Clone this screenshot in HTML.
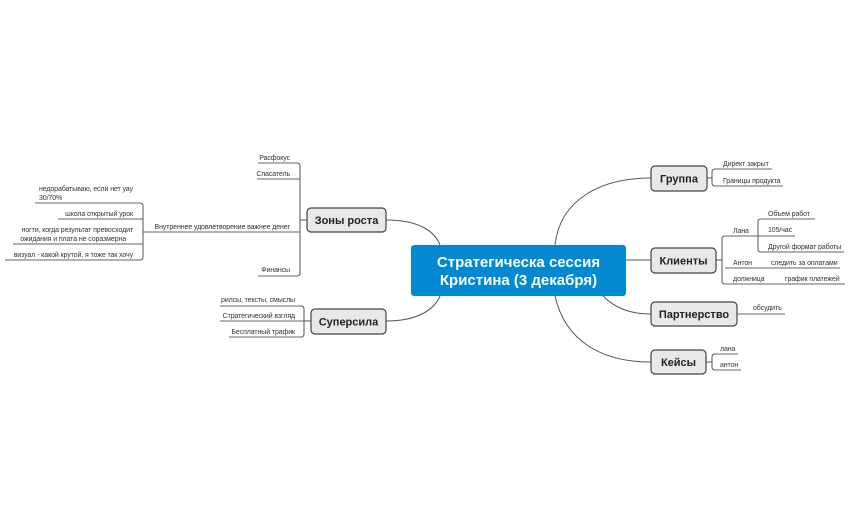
<!DOCTYPE html>
<html><head><meta charset="utf-8"><style>
html,body{margin:0;padding:0;background:#fff;}
svg{display:block;}
text{font-family:"Liberation Sans","DejaVu Sans",sans-serif;}
.s{font-size:7px;fill:#333;letter-spacing:-0.1px;}
.n{font-size:11px;font-weight:bold;fill:#222;}
.l{stroke:#555;stroke-width:1;fill:none;}
.u{stroke:#666;stroke-width:1;fill:none;}
.b{fill:#e8e8e8;stroke:#444;stroke-width:1.2;}
</style></head><body>
<svg width="852" height="527" viewBox="0 0 852 527" xmlns="http://www.w3.org/2000/svg">
<path class="l" d="M386,220 C420,220 435,232 440,245"/>
<path class="l" d="M386,321 C420,321 435,308 440,296"/>
<path class="l" d="M555,245 C560,200 600,178 651,178"/>
<path class="l" d="M626,260 L651,260"/>
<path class="l" d="M603,296 C615,308 630,314 651,314"/>
<path class="l" d="M555,296 C565,340 600,362 651,362"/>

<rect x="411" y="245" width="215" height="51" rx="3" fill="#0388d2"/>
<text x="518.5" y="267" text-anchor="middle" font-size="15" font-weight="bold" fill="#fff">Стратегическа сессия</text>
<text x="518.5" y="285" text-anchor="middle" font-size="15" font-weight="bold" fill="#fff">Кристина (3 декабря)</text>

<rect class="b" x="307" y="208" width="79" height="24" rx="4"/>
<text class="n" x="346.5" y="224" text-anchor="middle">Зоны роста</text>
<rect class="b" x="311" y="309" width="75" height="25" rx="4"/>
<text class="n" x="348.5" y="325.5" text-anchor="middle">Суперсила</text>
<rect class="b" x="651" y="166" width="56" height="25" rx="4"/>
<text class="n" x="679" y="182.5" text-anchor="middle">Группа</text>
<rect class="b" x="651" y="248" width="65" height="25" rx="4"/>
<text class="n" x="683.5" y="264.5" text-anchor="middle">Клиенты</text>
<rect class="b" x="651" y="302" width="86" height="24" rx="4"/>
<text class="n" x="694" y="318" text-anchor="middle">Партнерство</text>
<rect class="b" x="651" y="350" width="55" height="24" rx="4"/>
<text class="n" x="678.5" y="366" text-anchor="middle">Кейсы</text>

<path class="l" d="M707,178 L712,178 M715,169 Q712,169 712,172 L712,183 Q712,186 715,186"/>
<path class="u" d="M715,169 L772,169 M715,186 L783,186"/>
<text class="s" x="723" y="166">Директ закрыт</text>
<text class="s" x="723" y="183">Границы продукта</text>

<path class="l" d="M716,260 L722,260 M725,236 Q722,236 722,239 L722,281 Q722,284 725,284"/>
<path class="u" d="M725,236 L758,236 M725,268 L840,268 M725,284 L845,284"/>
<text class="s" x="733" y="233">Лана</text>
<text class="s" x="733" y="265">Антон</text>
<text class="s" x="771" y="265">следить за оплатами</text>
<text class="s" x="733" y="281">должница</text>
<text class="s" x="785" y="281">график платежей</text>
<path class="l" d="M761,219 Q758,219 758,222 L758,249 Q758,252 761,252"/>
<path class="u" d="M761,219 L815,219 M758,236 L795,236 M761,252 L844,252"/>
<text class="s" x="768" y="216">Объем работ</text>
<text class="s" x="768" y="232">105/час</text>
<text class="s" x="768" y="249">Другой формат работы</text>

<path class="u" d="M737,314 L785,314"/>
<text class="s" x="753" y="310">обсудить</text>

<path class="l" d="M706,362 L712,362 M715,354 Q712,354 712,357 L712,367 Q712,370 715,370"/>
<path class="u" d="M715,354 L738,354 M715,370 L741,370"/>
<text class="s" x="720" y="351">лана</text>
<text class="s" x="720" y="367">антон</text>

<path class="l" d="M307,220 L300,220 M297,163 Q300,163 300,166 L300,273 Q300,276 297,276"/>
<path class="u" d="M258,163 L297,163 M257,179 L300,179 M143,232 L300,232 M258,276 L297,276"/>
<g text-anchor="end">
<text class="s" x="290" y="160">Расфокус</text>
<text class="s" x="290" y="176">Спасатель</text>
<text class="s" x="290" y="229">Внутреннее удовлетворение важнее денег</text>
<text class="s" x="290" y="272">Финансы</text>
</g>
<path class="l" d="M140,203 Q143,203 143,206 L143,257 Q143,260 140,260"/>
<path class="u" d="M35,203 L140,203 M58,219 L143,219 M13,244 L143,244 M5,260 L140,260"/>
<text class="s" x="39" y="191">недорабатываю, если нет уау</text>
<text class="s" x="39" y="200">30/70%</text>
<g text-anchor="end">
<text class="s" x="133" y="216">школа открытый урок</text>
<text class="s" x="133" y="232">ногти, когда результат превосходит</text>
<text class="s" x="126" y="241">ожидания и плата не соразмерна</text>
<text class="s" x="133" y="257">визуал - какой крутой, я тоже так хочу</text>
</g>

<path class="l" d="M311,321 L304,321 M301,306 Q304,306 304,309 L304,334 Q304,337 301,337"/>
<path class="u" d="M220,306 L301,306 M220,321 L304,321 M229,337 L301,337"/>
<g text-anchor="end">
<text class="s" x="295" y="302">рилсы, тексты, смыслы</text>
<text class="s" x="295" y="318">Стратегический взгляд</text>
<text class="s" x="295" y="334">Бесплатный трафик</text>
</g>
</svg>
</body></html>
